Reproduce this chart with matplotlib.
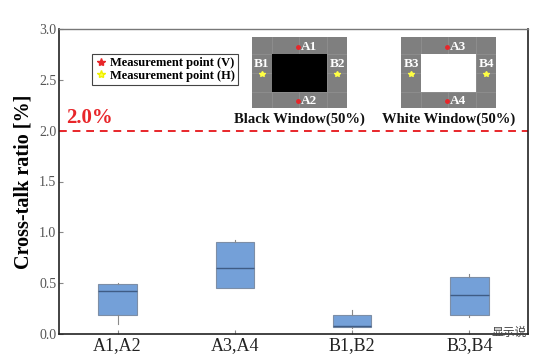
import matplotlib
matplotlib.use("Agg")
import matplotlib.pyplot as plt
from matplotlib.patches import Rectangle
from matplotlib.lines import Line2D

categories = ["A1,A2", "A3,A4", "B1,B2", "B3,B4"]
whisker_low = [0.10, 0.45, 0.06, 0.17]
q1 = [0.19, 0.455, 0.065, 0.19]
median = [0.42, 0.65, 0.08, 0.38]
q3 = [0.49, 0.905, 0.19, 0.56]
whisker_high = [0.50, 0.92, 0.235, 0.59]
yticks = [0.0, 0.5, 1.0, 1.5, 2.0, 2.5, 3.0]
limit = 2.0

W, H = 547, 360
fig = plt.figure(figsize=(W / 100, H / 100), dpi=100)
serif = "Liberation Serif"

def fx(px):
    return px / W

def fy(py):
    return 1 - py / H

ax = fig.add_axes([fx(59), fy(334), (528 - 59) / W, (334 - 29) / H])

stats = []
for i, c in enumerate(categories):
    stats.append(dict(label=c, whislo=whisker_low[i], q1=q1[i], med=median[i],
                      q3=q3[i], whishi=whisker_high[i], fliers=[]))
ax.bxp(stats, positions=range(1, len(categories) + 1), widths=0.33,
       patch_artist=True, showcaps=False, showfliers=False,
       boxprops=dict(facecolor="#74a0d8", edgecolor="#7d8ea6", linewidth=0.8),
       medianprops=dict(color="#3f5c85", linewidth=1.0),
       whiskerprops=dict(color="#8a8a8a", linewidth=0.8))

ax.set_xlim(0.5, 4.5)
ax.set_ylim(0, 3.0)
ax.set_yticks(yticks)
ax.set_yticklabels([f"{v:.1f}" for v in yticks], fontfamily=serif, fontsize=10, color="#555555")
ax.set_xticks(range(1, len(categories) + 1))
ax.set_xticklabels(categories, fontfamily=serif, fontsize=13, color="#222222")
ax.tick_params(axis="both", direction="in", length=3, color="#888888", pad=2)
for s in ["left", "bottom", "right"]:
    ax.spines[s].set_linewidth(1.2)
    ax.spines[s].set_color("#222222")
ax.spines["top"].set_color("#777777")
ax.spines["top"].set_linewidth(1.0)
ax.set_ylabel("Cross-talk ratio [%]", fontfamily=serif, fontsize=14.5, fontweight="bold", labelpad=4)

ax.axhline(limit, color="#e8262a", linestyle=(0, (4, 3)), linewidth=1.4)
ax.text(0.56, limit + 0.03, f"{limit:.1f}%", color="#e8262a", fontfamily=serif,
        fontsize=15, fontweight="bold", ha="left", va="bottom")

handles = [
    Line2D([], [], marker="*", color="#e8262a", linestyle="none", markersize=6),
    Line2D([], [], marker="*", color="#ffff44", markeredgecolor="#f0f000", linestyle="none", markersize=6),
]
leg = ax.legend(handles, ["Measurement point (V)", "Measurement point (H)"],
                loc="upper left", bbox_to_anchor=(0.07, 0.918), frameon=True,
                fancybox=False, edgecolor="#444444", framealpha=1,
                prop=dict(family=serif, size=9, weight="bold"),
                handletextpad=0.2, handlelength=1.0, borderpad=0.25, labelspacing=0.05,
                borderaxespad=0)
leg.get_frame().set_linewidth(0.8)

def panel(x0, inner_color, labels, caption):
    pax = fig.add_axes([fx(x0), fy(108), 95 / W, 71 / H])
    pax.set_xlim(0, 95)
    pax.set_ylim(71, 0)
    pax.axis("off")
    pax.add_patch(Rectangle((0, 0), 95, 71, facecolor="#7f7f7f", edgecolor="none", zorder=0))
    for gx in [20, 47, 75]:
        pax.plot([gx, gx], [0, 71], color="#929292", lw=0.5, zorder=1)
    for gy in [17, 36, 55]:
        pax.plot([0, 95], [gy, gy], color="#929292", lw=0.5, zorder=1)
    pax.add_patch(Rectangle((20, 17), 55, 38, facecolor=inner_color, edgecolor="none", zorder=2))
    top, bottom, left, right = labels
    kw = dict(color="white", fontfamily=serif, fontsize=9.5, fontweight="bold", zorder=4)
    pax.plot(46, 10, marker="o", color="#e8262a", markersize=2.5, zorder=3)
    pax.text(49, 10, top, va="center", **kw)
    pax.plot(46, 64, marker="o", color="#e8262a", markersize=2.5, zorder=3)
    pax.text(49, 64, bottom, va="center", **kw)
    pax.text(10, 27, left, ha="center", va="center", **kw)
    pax.plot(10, 37, marker="*", color="#ffff44", markersize=4, zorder=3)
    pax.text(85, 27, right, ha="center", va="center", **kw)
    pax.plot(85, 37, marker="*", color="#ffff44", markersize=4, zorder=3)
    fig.text(fx(x0 + 47.5), fy(119), caption, fontfamily=serif, fontsize=10.5, fontweight="bold",
             ha="center", va="center", color="#111111")

panel(252, "black", ["A1", "A2", "B1", "B2"], "Black Window(50%)")
panel(401, "white", ["A3", "A4", "B3", "B4"], "White Window(50%)")

fig.text(fx(491), fy(332), "显示说", fontfamily=["Noto Sans CJK SC", "DejaVu Sans"],
         fontsize=8.5, color="#444444", ha="left", va="center")

fig.savefig("out.png", dpi=100)
